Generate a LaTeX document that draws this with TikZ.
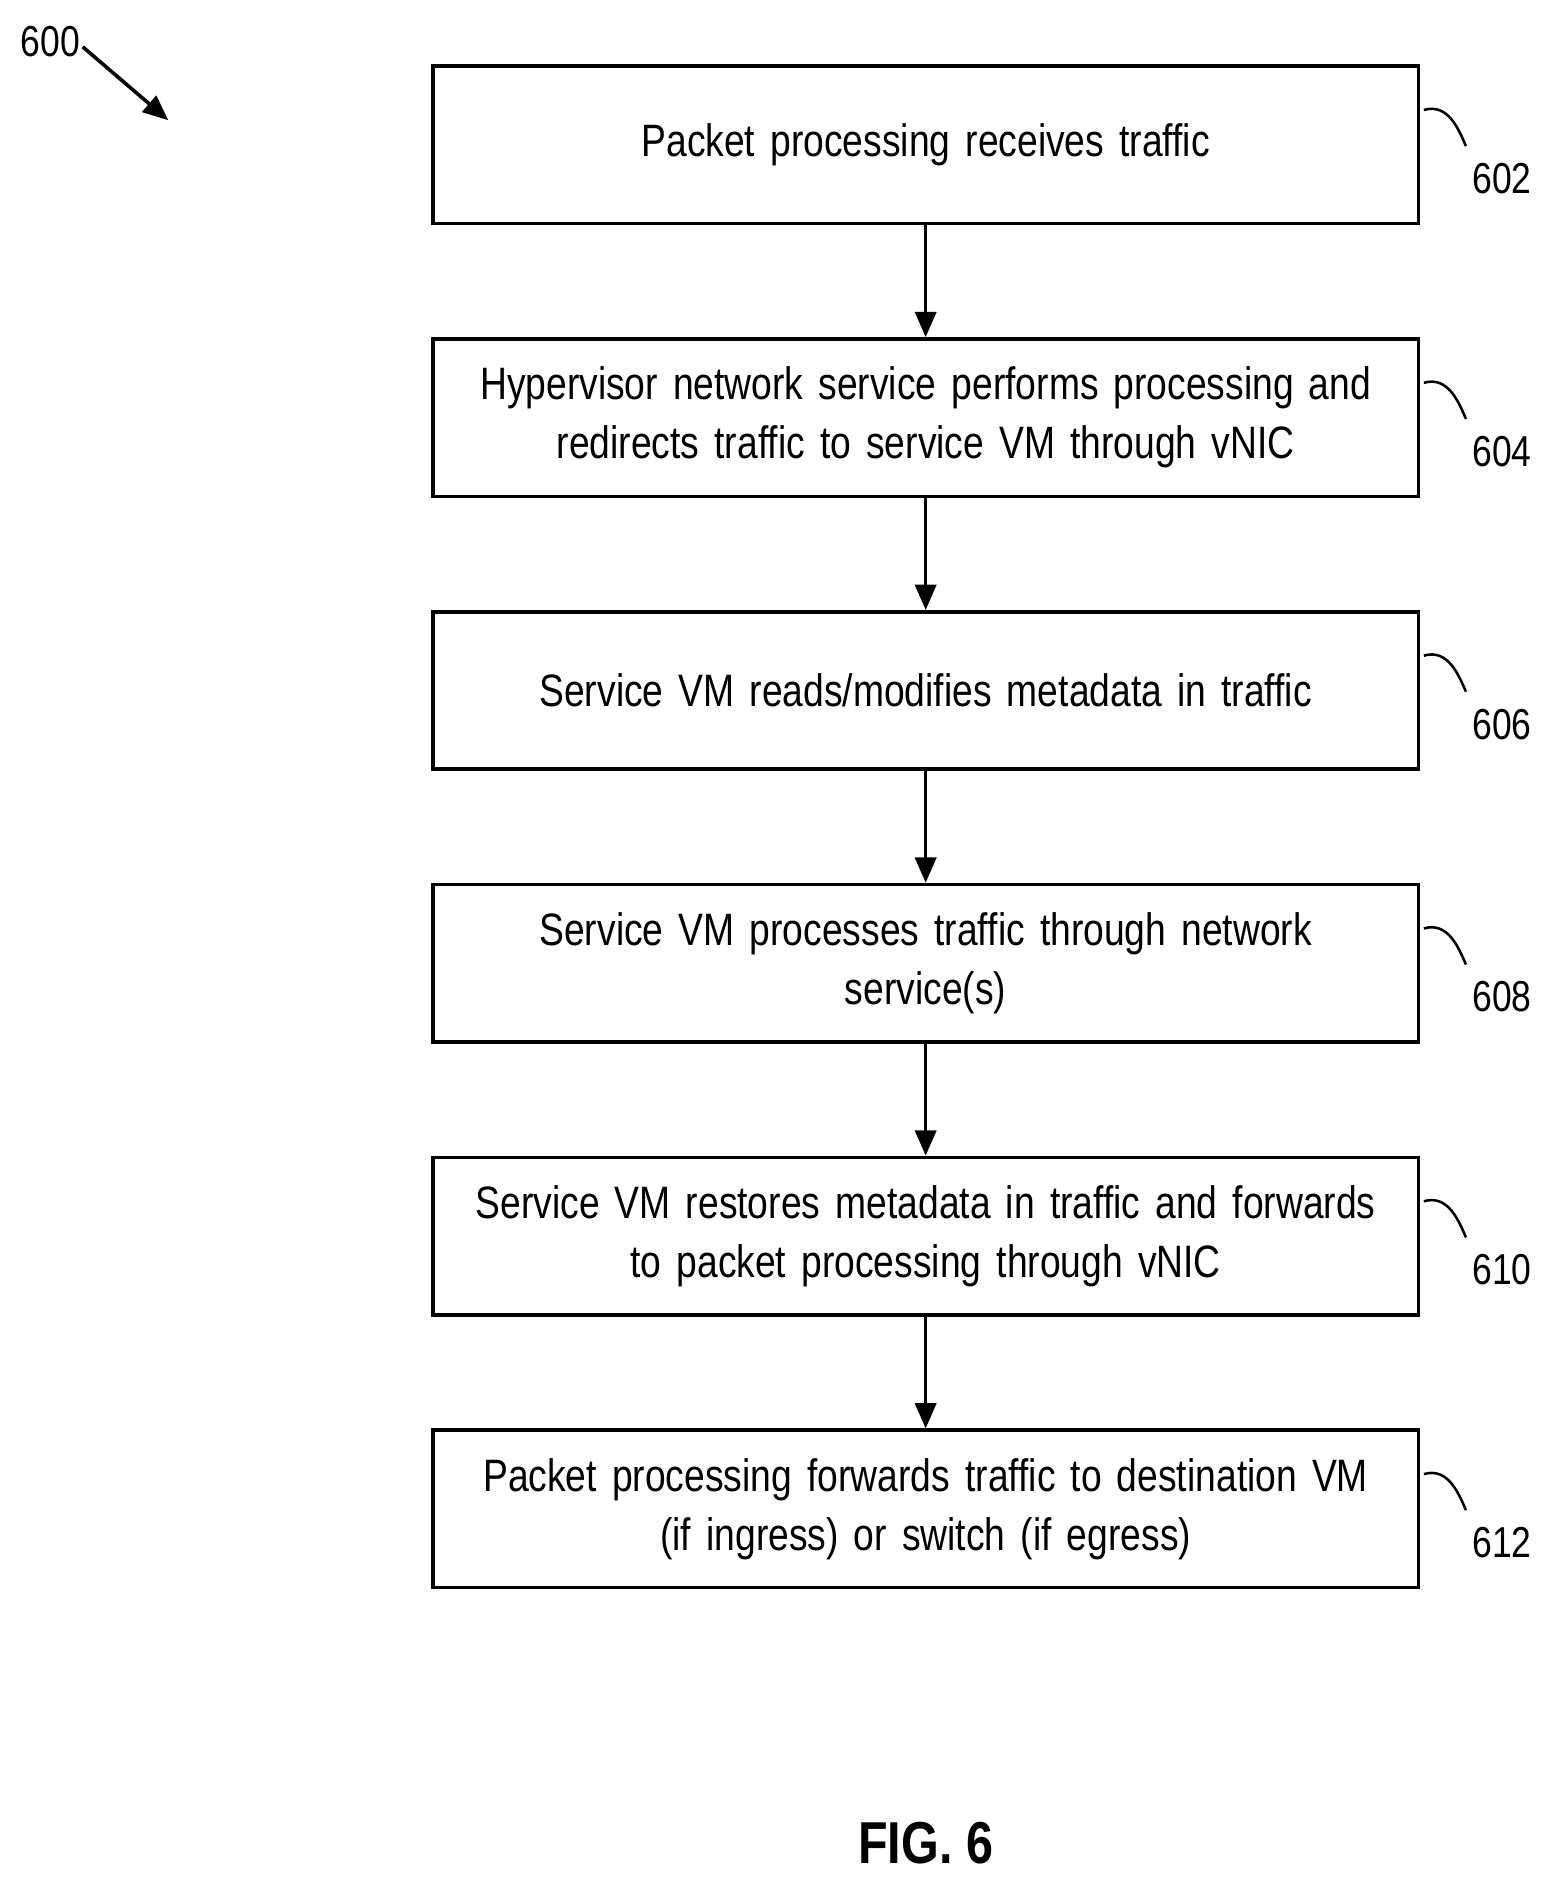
\documentclass[tikz,border=0pt]{standalone}
\usepackage{fontspec}
\setmainfont{Liberation Sans}[FakeStretch=0.82]
\usetikzlibrary{arrows.meta,positioning}

\tikzset{
  procbox/.style={draw,line width=1.7pt,minimum width=16.4cm,minimum height=2.62cm,
    text width=16cm,align=center,inner sep=0pt,font=\fontsize{21.5}{28}\selectfont},
  flow/.style={line width=1.7pt,-{Triangle[length=12pt,width=10pt]}},
  lead/.style={line width=1.2pt},
  refnum/.style={font=\fontsize{20.5}{24}\selectfont}
}

\begin{document}
\begin{tikzpicture}[x=0.02cm,y=-0.02cm]
  \useasboundingbox (0,0) rectangle (1300,1578);

  % figure number
  \node[refnum] (n600) at (42,35) {600};
  \coordinate (tip600) at (140,100);
  \draw[flow] (n600.east) ++(-4,4) -- (tip600);

  % steps
  \node[procbox] (s602) at (770,120.5) {Packet processing receives traffic};
  \node[procbox,below=1.86cm of s602] (s604) {Hypervisor network service performs processing and\\redirects traffic to service VM through vNIC};
  \node[procbox,below=1.86cm of s604] (s606) {Service VM reads/modifies metadata in traffic};
  \node[procbox,below=1.86cm of s606] (s608) {Service VM processes traffic through network\\service(s)};
  \node[procbox,below=1.86cm of s608] (s610) {Service VM restores metadata in traffic and forwards\\to packet processing through vNIC};
  \node[procbox,below=1.86cm of s610] (s612) {Packet processing forwards traffic to destination VM\\(if ingress) or switch (if egress)};

  % arrows
  \draw[flow] (s602) -- (s604);
  \draw[flow] (s604) -- (s606);
  \draw[flow] (s606) -- (s608);
  \draw[flow] (s608) -- (s610);
  \draw[flow] (s610) -- (s612);

  % reference numbers
  \foreach \s in {602,604,606,608,610,612}{
    \draw[lead] (s\s.north east) ++(3,38) .. controls +(20,-6) and +(-6,-14) .. +(35,30);
    \node[refnum] at ([shift={(68,95)}]s\s.north east) {\s};
  }

  \node[font=\fontsize{28}{32}\bfseries\selectfont] (fig) at (770,1533) {FIG. 6};
\end{tikzpicture}
\end{document}
